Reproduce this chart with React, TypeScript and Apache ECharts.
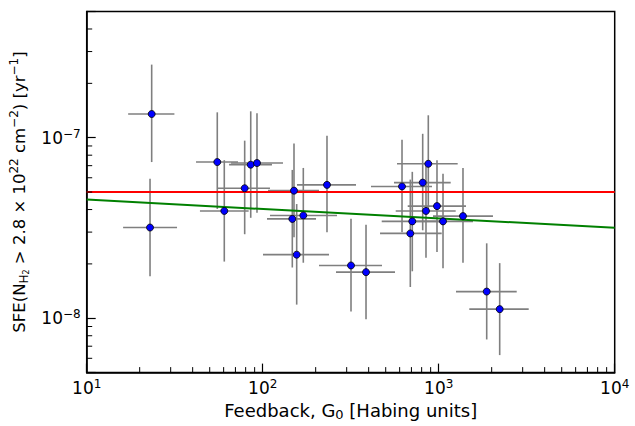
import React, { useEffect, useRef } from 'react';
import * as echarts from 'echarts';

// Feedback G0 (x) with error-bar ends, and SFE (y) with error-bar ends
const feedbackG0 = [23.4, 55.2, 22.9, 60.5, 85.5, 92.8, 79.0, 150.6, 231.9, 147.3, 170.1, 156.0, 317.5, 386.4, 618.8, 689.7, 707.9, 811.1, 846.8, 872.8, 977.9, 1058, 1374, 1874, 2221];
const feedbackLo = [17.2, 41.8, 16.1, 44.0, 64.4, 66.1, 55.7, 107.2, 156.6, 105.8, 110.0, 100.4, 208.9, 260.9, 412.4, 464.1, 474.5, 557.2, 569.8, 579.6, 666.7, 714.5, 928, 1254, 1492];
const feedbackHi = [31.5, 72.4, 32.6, 83.2, 112.9, 130.4, 110.0, 208.9, 338.9, 200.9, 264.4, 238.1, 476.2, 564.6, 916.1, 1040, 1017, 1170, 1249, 1282, 1429, 1566, 2034, 2775, 3246];
const sfe = [1.353e-7, 7.33e-8, 3.18e-8, 3.93e-8, 7.09e-8, 7.24e-8, 5.25e-8, 5.09e-8, 5.48e-8, 3.55e-8, 3.71e-8, 2.25e-8, 1.96e-8, 1.80e-8, 5.37e-8, 2.95e-8, 3.44e-8, 5.64e-8, 3.93e-8, 7.17e-8, 4.18e-8, 3.44e-8, 3.68e-8, 1.405e-8, 1.123e-8];
const sfeLo = [7.33e-8, 4.03e-8, 1.708e-8, 2.06e-8, 3.60e-8, 3.84e-8, 2.92e-8, 2.81e-8, 2.99e-8, 1.91e-8, 2.03e-8, 1.19e-8, 1.091e-8, 9.88e-9, 2.99e-8, 1.49e-8, 1.82e-8, 3.07e-8, 2.16e-8, 3.84e-8, 2.33e-8, 1.89e-8, 2.03e-8, 7.63e-9, 6.25e-9];
const sfeHi = [2.54e-7, 1.382e-7, 5.93e-8, 7.51e-8, 1.40e-7, 1.365e-7, 9.63e-8, 9.28e-8, 1.025e-7, 6.63e-8, 6.80e-8, 4.29e-8, 3.56e-8, 3.30e-8, 9.75e-8, 5.86e-8, 6.47e-8, 1.051e-7, 7.15e-8, 1.331e-7, 7.51e-8, 6.31e-8, 6.80e-8, 2.60e-8, 2.02e-8];

// Reference lines
const constLineX = [10, 10000];
const constLineY = [5.0e-8, 5.0e-8];
const fitLineX = [10, 10000];
const fitLineY = [4.54e-8, 3.17e-8];

// Axes
const xMin = 10;
const xMax = 10000;
const yMin = 5e-9;
const yMax = 5e-7;
const xMinorTicks = [20, 30, 40, 50, 60, 70, 80, 90, 200, 300, 400, 500, 600, 700, 800, 900, 2000, 3000, 4000, 5000, 6000, 7000, 8000, 9000];
const yMinorTicks = [6e-9, 7e-9, 8e-9, 9e-9, 2e-8, 3e-8, 4e-8, 5e-8, 6e-8, 7e-8, 8e-8, 9e-8, 2e-7, 3e-7, 4e-7];

const FONT = 'DejaVu Sans';

const powLabel = (v: number) => {
  const l = Math.log10(v);
  const e = Math.round(l);
  if (Math.abs(l - e) > 1e-6) return '';
  const es = e < 0 ? '\u2212' + -e : String(e);
  return `{b|10}{s|${es}}`;
};

const tickRich = {
  b: { fontSize: 17, lineHeight: 20, fontFamily: FONT, color: '#000' },
  s: { fontSize: 12, lineHeight: 12, fontFamily: FONT, color: '#000', verticalAlign: 'top' },
};

const makeNameRich = (fs: number) => ({
  t: { fontSize: fs, lineHeight: 22, fontFamily: FONT, color: '#000' },
  sub: { fontSize: Math.round(fs * 0.7), lineHeight: 12, fontFamily: FONT, color: '#000', verticalAlign: 'bottom' },
  sub2: { fontSize: Math.round(fs * 0.5), lineHeight: 8, fontFamily: FONT, color: '#000', verticalAlign: 'bottom' },
  sup: { fontSize: Math.round(fs * 0.7), lineHeight: 12, fontFamily: FONT, color: '#000', verticalAlign: 'top' },
});

const W = 635;
const H = 426;

export default function App() {
  const ref = useRef<HTMLDivElement>(null);

  useEffect(() => {
    if (!ref.current) return;
    document.body.style.margin = '0';
    const chart = echarts.init(ref.current, undefined, { renderer: 'svg', width: W, height: H });

    const errData = feedbackG0.map((x, i) => [x, sfe[i], feedbackLo[i], feedbackHi[i], sfeLo[i], sfeHi[i]]);
    const pts = feedbackG0.map((x, i) => [x, sfe[i]]);

    const option: any = {
      animation: false,
      backgroundColor: '#fff',
      grid: {
        left: 86.7,
        right: 20.3,
        top: 11.5,
        bottom: 46,
        show: true,
        borderColor: '#000',
        borderWidth: 1.5,
        backgroundColor: 'transparent',
      },
      xAxis: {
        type: 'log',
        logBase: 10,
        min: xMin,
        max: xMax,
        name: '{t|Feedback, G}{sub|0}{t| [Habing units]}',
        nameLocation: 'middle',
        nameGap: 25,
        nameTextStyle: { rich: makeNameRich(18) },
        axisLine: { show: true, lineStyle: { color: '#000', width: 1.5 } },
        axisTick: { show: true, inside: true, length: 9, lineStyle: { color: '#000', width: 1.2 } },
        axisLabel: { formatter: powLabel, rich: tickRich, margin: 5, showMinLabel: true, showMaxLabel: true },
        splitLine: { show: false },
        minorTick: { show: false },
      },
      yAxis: {
        type: 'log',
        logBase: 10,
        min: yMin,
        max: yMax,
        name: '{t|SFE(N}{sub|H}{sub2|2}{t| > 2.8 \u00d7 10}{sup|22}{t| cm}{sup|\u22122}{t|) [yr}{sup|\u22121}{t|]}',
        nameLocation: 'middle',
        nameRotate: 90,
        nameGap: 50,
        nameTextStyle: { rich: makeNameRich(16.5) },
        axisLine: { show: true, lineStyle: { color: '#000', width: 1.5 } },
        axisTick: { show: true, inside: true, length: 9, lineStyle: { color: '#000', width: 1.2 } },
        axisLabel: { formatter: powLabel, rich: tickRich, margin: 6 },
        splitLine: { show: false },
        minorTick: { show: false },
      },
      series: [
        {
          type: 'custom',
          name: 'errors',
          z: 1,
          encode: { x: 0, y: 1 },
          data: errData,
          renderItem: (params: any, api: any) => {
            const x = api.value(0);
            const y = api.value(1);
            const a = api.coord([api.value(2), y]);
            const b = api.coord([api.value(3), y]);
            const c = api.coord([x, api.value(4)]);
            const d = api.coord([x, api.value(5)]);
            const style = { stroke: '#7f7f7f', lineWidth: 1.6 };
            return {
              type: 'group',
              children: [
                { type: 'line', shape: { x1: a[0], y1: a[1], x2: b[0], y2: b[1] }, style },
                { type: 'line', shape: { x1: c[0], y1: c[1], x2: d[0], y2: d[1] }, style },
              ],
            };
          },
        },
        {
          type: 'line',
          z: 2,
          data: constLineX.map((x, i) => [x, constLineY[i]]),
          symbol: 'none',
          lineStyle: { color: '#ff0000', width: 2 },
        },
        {
          type: 'line',
          z: 2,
          data: fitLineX.map((x, i) => [x, fitLineY[i]]),
          symbol: 'none',
          lineStyle: { color: '#008000', width: 2 },
        },
        {
          type: 'scatter',
          z: 3,
          data: pts,
          symbol: 'circle',
          symbolSize: 7,
          itemStyle: { color: '#0000ff', borderColor: '#000', borderWidth: 0.8, opacity: 1 },
        },
        {
          type: 'custom',
          name: 'xminor',
          z: 4,
          encode: { x: 0, y: 1 },
          data: xMinorTicks.map((v) => [v, yMin]),
          renderItem: (params: any, api: any) => {
            const p = api.coord([api.value(0), api.value(1)]);
            return { type: 'line', shape: { x1: p[0], y1: p[1], x2: p[0], y2: p[1] - 5.5 }, style: { stroke: '#000', lineWidth: 1 } };
          },
        },
        {
          type: 'custom',
          name: 'yminor',
          z: 4,
          encode: { x: 0, y: 1 },
          data: yMinorTicks.map((v) => [xMin, v]),
          renderItem: (params: any, api: any) => {
            const p = api.coord([api.value(0), api.value(1)]);
            return { type: 'line', shape: { x1: p[0], y1: p[1], x2: p[0] + 5.5, y2: p[1] }, style: { stroke: '#000', lineWidth: 1 } };
          },
        },
      ],
    };

    chart.setOption(option);
    return () => chart.dispose();
  }, []);

  return <div ref={ref} style={{ position: 'absolute', left: 0, top: 0, width: W, height: H }} />;
}
